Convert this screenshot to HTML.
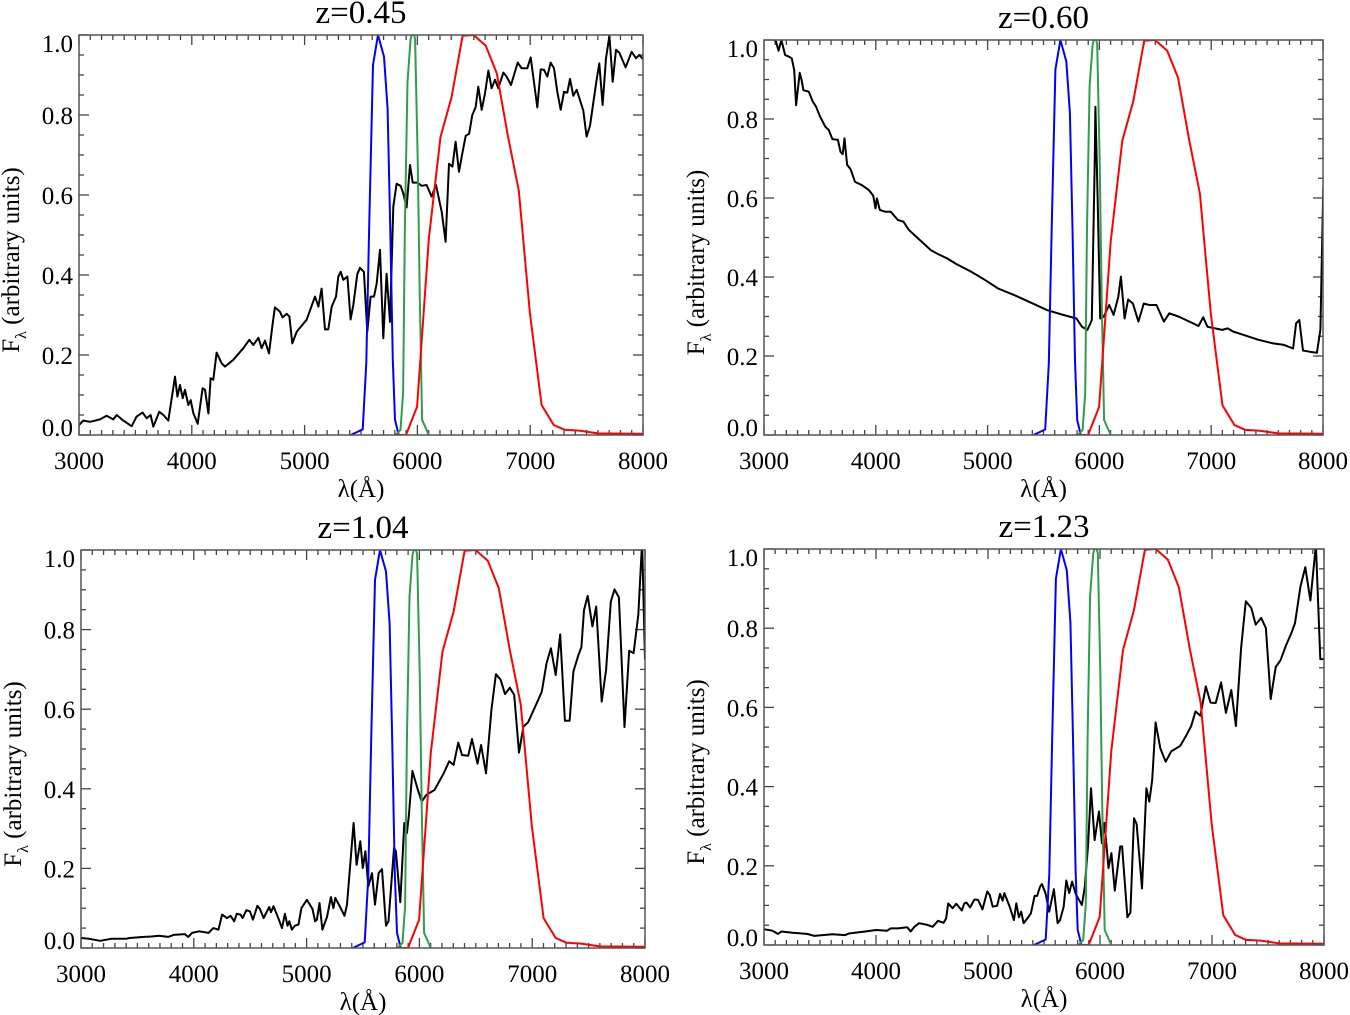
<!DOCTYPE html>
<html><head><meta charset="utf-8">
<style>
html,body{margin:0;padding:0;background:#fff;}
svg{display:block;}
text{font-family:"Liberation Serif",serif;fill:#000;}
</style></head>
<body>
<svg id="fig" width="1350" height="1015" viewBox="0 0 1350 1015" xmlns="http://www.w3.org/2000/svg"></svg>
<script>
// ---- data ----
const xTicks = [3000,4000,5000,6000,7000,8000];
const yTicks = [0.0,0.2,0.4,0.6,0.8,1.0];
const yTickLabels = ["0.0","0.2","0.4","0.6","0.8","1.0"];
const panelTitles = ["z=0.45","z=0.60","z=1.04","z=1.23"];

const filterBlue = [[5410,0],[5515,0.014],[5547,0.18],[5573,0.523],[5606,0.925],[5651,1.0],[5704,0.946],[5736,0.816],[5759,0.523],[5782,0.188],[5801,0.038],[5834,0]];
const filterGreen = [[5808,0],[5850,0.013],[5873,0.105],[5889,0.523],[5912,0.883],[5940,0.99],[5960,1.01],[5980,0.99],[6003,0.69],[6020,0.356],[6042,0.038],[6101,0]];
const filterRed = [[5801,0],[5899,0],[5997,0.071],[6101,0.49],[6205,0.745],[6303,0.845],[6401,0.998],[6498,1.0],[6606,0.973],[6704,0.904],[6801,0.749],[6899,0.611],[6997,0.305],[7101,0.075],[7208,0.025],[7306,0.013],[7436,0.011],[7599,0.004],[8000,0.003]];

const spectrumZ045 = [[3000,0.025],[3038,0.036],[3098,0.033],[3186,0.039],[3245,0.048],[3304,0.039],[3334,0.05],[3393,0.036],[3467,0.022],[3511,0.046],[3564,0.056],[3600,0.042],[3635,0.05],[3659,0.021],[3712,0.058],[3748,0.05],[3792,0.036],[3851,0.146],[3872,0.096],[3895,0.125],[3919,0.092],[3940,0.113],[3969,0.075],[3990,0.087],[4014,0.054],[4052,0.028],[4096,0.117],[4117,0.113],[4147,0.054],[4167,0.142],[4191,0.138],[4220,0.206],[4265,0.179],[4294,0.171],[4368,0.188],[4457,0.217],[4510,0.238],[4545,0.225],[4590,0.243],[4619,0.217],[4649,0.236],[4684,0.204],[4717,0.279],[4737,0.319],[4782,0.308],[4805,0.294],[4841,0.303],[4865,0.296],[4891,0.229],[4930,0.258],[5018,0.288],[5092,0.346],[5122,0.321],[5151,0.366],[5181,0.264],[5210,0.264],[5240,0.321],[5278,0.346],[5299,0.396],[5320,0.408],[5343,0.388],[5379,0.396],[5408,0.289],[5432,0.325],[5467,0.402],[5491,0.418],[5526,0.408],[5556,0.258],[5585,0.346],[5615,0.346],[5639,0.379],[5668,0.463],[5698,0.242],[5727,0.403],[5757,0.283],[5786,0.571],[5816,0.628],[5851,0.623],[5875,0.604],[5904,0.569],[5934,0.675],[5958,0.631],[5999,0.631],[6038,0.623],[6082,0.625],[6126,0.596],[6165,0.625],[6215,0.558],[6250,0.483],[6280,0.678],[6310,0.671],[6339,0.733],[6369,0.658],[6398,0.704],[6428,0.748],[6458,0.753],[6487,0.8],[6516,0.819],[6540,0.871],[6570,0.813],[6599,0.854],[6629,0.911],[6658,0.867],[6688,0.888],[6717,0.867],[6762,0.906],[6791,0.896],[6830,0.875],[6889,0.931],[6924,0.917],[6974,0.917],[7004,0.944],[7063,0.819],[7093,0.914],[7122,0.913],[7152,0.896],[7181,0.931],[7211,0.917],[7240,0.858],[7270,0.813],[7300,0.858],[7329,0.856],[7353,0.89],[7382,0.848],[7412,0.863],[7471,0.811],[7500,0.746],[7530,0.773],[7589,0.888],[7613,0.929],[7642,0.825],[7672,0.942],[7702,0.998],[7731,0.883],[7761,0.963],[7790,0.956],[7846,0.919],[7899,0.958],[7938,0.942],[7967,0.95],[8003,0.939]];

const spectrumZ060 = [[3059,1.01],[3107,0.996],[3130,0.973],[3156,1.0],[3189,0.962],[3221,0.958],[3248,0.954],[3270,0.924],[3287,0.835],[3319,0.917],[3336,0.899],[3352,0.873],[3401,0.869],[3433,0.846],[3466,0.831],[3498,0.808],[3547,0.781],[3580,0.772],[3612,0.749],[3661,0.747],[3684,0.717],[3704,0.711],[3720,0.751],[3743,0.684],[3775,0.673],[3814,0.641],[3873,0.633],[3938,0.62],[3977,0.606],[3997,0.574],[4010,0.599],[4036,0.57],[4085,0.565],[4134,0.565],[4199,0.544],[4248,0.54],[4296,0.519],[4362,0.502],[4427,0.485],[4492,0.468],[4557,0.458],[4638,0.447],[4720,0.433],[4850,0.414],[4980,0.392],[5094,0.371],[5241,0.354],[5388,0.335],[5534,0.316],[5664,0.305],[5795,0.295],[5844,0.274],[5893,0.266],[5932,0.291],[5958,0.688],[5964,0.831],[5984,0.603],[6007,0.295],[6039,0.3],[6088,0.329],[6127,0.304],[6169,0.35],[6192,0.401],[6225,0.295],[6257,0.343],[6300,0.333],[6349,0.287],[6397,0.333],[6446,0.329],[6511,0.329],[6577,0.287],[6625,0.308],[6707,0.3],[6805,0.287],[6886,0.276],[6928,0.298],[6967,0.274],[7098,0.266],[7147,0.27],[7195,0.262],[7293,0.253],[7423,0.241],[7554,0.232],[7651,0.228],[7733,0.219],[7759,0.283],[7788,0.291],[7821,0.214],[7879,0.211],[7945,0.208],[7977,0.266],[8003,0.629]];

const spectrumZ104 = [[3000,0.025],[3072,0.023],[3169,0.018],[3267,0.023],[3397,0.023],[3430,0.025],[3560,0.028],[3625,0.029],[3691,0.031],[3772,0.028],[3821,0.033],[3919,0.035],[3951,0.028],[3984,0.038],[4049,0.042],[4130,0.038],[4173,0.05],[4218,0.046],[4251,0.084],[4293,0.075],[4326,0.081],[4358,0.067],[4381,0.086],[4414,0.084],[4433,0.075],[4466,0.095],[4498,0.092],[4524,0.071],[4564,0.106],[4586,0.098],[4619,0.075],[4668,0.103],[4684,0.09],[4707,0.105],[4749,0.075],[4782,0.05],[4808,0.086],[4831,0.056],[4847,0.067],[4870,0.046],[4896,0.056],[4928,0.059],[4954,0.1],[5003,0.121],[5052,0.098],[5075,0.067],[5091,0.071],[5114,0.113],[5140,0.046],[5182,0.079],[5215,0.128],[5238,0.1],[5254,0.126],[5293,0.105],[5336,0.081],[5358,0.109],[5417,0.314],[5443,0.209],[5476,0.268],[5498,0.201],[5521,0.243],[5547,0.155],[5580,0.188],[5606,0.109],[5638,0.188],[5668,0.198],[5704,0.056],[5726,0.067],[5775,0.251],[5792,0.243],[5831,0.115],[5866,0.314],[5889,0.289],[5906,0.331],[5938,0.445],[5987,0.397],[6020,0.368],[6062,0.385],[6134,0.397],[6215,0.439],[6264,0.469],[6303,0.46],[6345,0.516],[6378,0.485],[6433,0.483],[6466,0.525],[6515,0.463],[6547,0.51],[6590,0.439],[6638,0.598],[6678,0.688],[6720,0.674],[6759,0.638],[6801,0.654],[6840,0.636],[6883,0.491],[6922,0.556],[6964,0.567],[7046,0.619],[7085,0.644],[7127,0.715],[7166,0.753],[7208,0.686],[7248,0.788],[7290,0.571],[7332,0.571],[7365,0.695],[7410,0.736],[7436,0.756],[7459,0.849],[7492,0.885],[7534,0.808],[7567,0.858],[7616,0.619],[7655,0.699],[7697,0.87],[7730,0.901],[7769,0.881],[7818,0.555],[7860,0.747],[7899,0.741],[7941,0.837],[7974,1.02],[8000,0.724]];

const spectrumZ123 = [[3000,0.04],[3075,0.036],[3124,0.028],[3156,0.034],[3254,0.031],[3384,0.028],[3449,0.023],[3612,0.027],[3725,0.025],[3758,0.029],[3904,0.034],[4001,0.038],[4099,0.036],[4131,0.042],[4197,0.042],[4278,0.045],[4310,0.034],[4343,0.046],[4385,0.055],[4456,0.051],[4505,0.046],[4554,0.061],[4603,0.056],[4626,0.067],[4645,0.105],[4684,0.093],[4717,0.104],[4766,0.087],[4788,0.105],[4808,0.107],[4840,0.095],[4879,0.115],[4912,0.114],[4951,0.09],[4993,0.135],[5016,0.126],[5042,0.097],[5081,0.099],[5107,0.129],[5130,0.112],[5146,0.131],[5198,0.093],[5231,0.063],[5253,0.105],[5276,0.07],[5296,0.084],[5318,0.055],[5351,0.067],[5383,0.08],[5416,0.124],[5438,0.124],[5464,0.147],[5481,0.154],[5513,0.131],[5546,0.084],[5588,0.141],[5621,0.055],[5643,0.063],[5676,0.097],[5699,0.163],[5725,0.131],[5751,0.16],[5783,0.129],[5838,0.101],[5864,0.147],[5894,0.253],[5920,0.396],[5952,0.265],[5991,0.337],[6017,0.257],[6040,0.308],[6076,0.194],[6102,0.232],[6132,0.137],[6180,0.249],[6197,0.249],[6245,0.07],[6271,0.082],[6304,0.32],[6327,0.306],[6375,0.143],[6414,0.396],[6440,0.362],[6466,0.417],[6496,0.562],[6538,0.497],[6587,0.463],[6636,0.489],[6717,0.503],[6766,0.527],[6814,0.553],[6853,0.59],[6896,0.579],[6945,0.653],[6987,0.612],[7033,0.611],[7081,0.663],[7124,0.586],[7172,0.644],[7213,0.553],[7260,0.75],[7302,0.868],[7351,0.851],[7390,0.809],[7439,0.826],[7481,0.8],[7524,0.621],[7569,0.702],[7612,0.719],[7660,0.756],[7709,0.788],[7741,0.813],[7790,0.906],[7833,0.954],[7879,0.87],[7928,1.01],[7967,0.722],[8000,0.722]];

const spectra = [spectrumZ045, spectrumZ060, spectrumZ104, spectrumZ123];

// ---- layout ----
const panels = [
  {x0:79,x1:643,y0:35,y1:435,lbl:"z045"},
  {x0:764,x1:1323,y0:40,y1:435,lbl:"z060"},
  {x0:81,x1:645,y0:550,y1:948,lbl:"z104"},
  {x0:764,x1:1324,y0:549,y1:945,lbl:"z123"}
];
const NS = "http://www.w3.org/2000/svg";
const svg = document.getElementById('fig');
function mk(tag, attrs, parent){
  const e = document.createElementNS(NS, tag);
  for (const k in attrs) e.setAttribute(k, attrs[k]);
  (parent||svg).appendChild(e);
  return e;
}
const defs = mk('defs', {});

panels.forEach((p, i) => {
  const g = mk('g', {});
  
  
  const sx = v => p.x0 + (v - 3000) / 5000 * (p.x1 - p.x0);
  const sy = v => p.y1 - v * (p.y1 - p.y0);
  const cx = (p.x0 + p.x1) / 2;

  const cp = mk('clipPath', {id:'clip'+i}, defs);
  mk('rect', {x:p.x0, y:p.y0, width:p.x1-p.x0, height:p.y1-p.y0}, cp);

  const tg = mk('g', {stroke:'#444', 'stroke-width':1.3}, g);
  
  
  for (let w = 3000; w <= 8000; w += 100) {
    const major = (w % 1000 === 0);
    const L = major ? 10 : 5;
    const x = sx(w);
    mk('line', {x1:x, y1:p.y1, x2:x, y2:p.y1-L}, tg);
    mk('line', {x1:x, y1:p.y0, x2:x, y2:p.y0+L}, tg);
  }
  for (let k = 0; k <= 20; k++) {
    const v = k * 0.05;
    const L = (k % 4 === 0) ? 10 : 5;
    const y = sy(v);
    mk('line', {x1:p.x0, y1:y, x2:p.x0+L, y2:y}, tg);
    mk('line', {x1:p.x1, y1:y, x2:p.x1-L, y2:y}, tg);
  }

  const cg = mk('g', {'clip-path':'url(#clip'+i+')', fill:'none', 'stroke-linejoin':'round'}, g);
  const line = (data, color, w, name) => {
    const d = data.map((pt, j) => (j ? 'L' : 'M') + sx(pt[0]).toFixed(1) + ',' + sy(pt[1]).toFixed(1)).join('');
    const el = mk('path', {d:d, stroke:color, 'stroke-width':w}, cg);
    
    
  };
  line(spectra[i], '#000', 2, 'spectrum-line');
  line(filterBlue, '#0000ff', 2, 'filter-blue');
  line(filterGreen, '#2f9e4c', 2, 'filter-green');
  line(filterRed, '#ff0000', 2, 'filter-red');

  const fr = mk('rect', {x:p.x0, y:p.y0, width:p.x1-p.x0, height:p.y1-p.y0, fill:'none', stroke:'#555', 'stroke-width':1.5}, g);
  
  

  xTicks.forEach(w => {
    const t = mk('text', {x:sx(w), y:p.y1+34, 'font-size':25, 'text-anchor':'middle'}, g);
    t.textContent = String(w);
    
    
  });
  yTicks.forEach((v, k) => {
    let y = sy(v) + 9;
    if (k === 0) y -= 8;
    if (k === yTicks.length - 1) y += 8;
    const t = mk('text', {x:p.x0-6, y:y, 'font-size':25, 'text-anchor':'end'}, g);
    t.textContent = yTickLabels[k];
    
    
  });
  const tt = mk('text', {x:cx, y:p.y0-12, 'font-size':33, 'text-anchor':'middle'}, g);
  tt.textContent = panelTitles[i];
  
  
  const xt = mk('text', {x:cx, y:p.y1+62, 'font-size':25, 'text-anchor':'middle'}, g);
  xt.textContent = 'λ(Å)';
  
  
  const ycy = (p.y0 + p.y1) / 2 + 25;
  const yx = p.x0 - 60;
  const yt = mk('text', {x:0, y:0, 'font-size':25, 'text-anchor':'middle', transform:'translate(' + yx + ',' + ycy + ') rotate(-90)'}, g);
  
  
  const s1 = mk('tspan', {}, yt); s1.textContent = 'F';
  const s2 = mk('tspan', {'font-size':16, dy:7}, yt); s2.textContent = 'λ';
  const s3 = mk('tspan', {dy:-7}, yt); s3.textContent = ' (arbitrary units)';
});
</script>
</body></html>
